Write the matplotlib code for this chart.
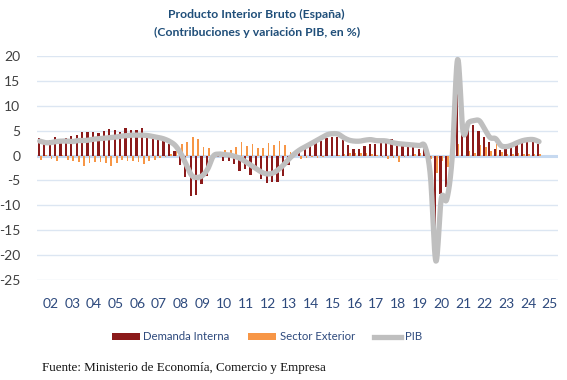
import numpy as np
import matplotlib
matplotlib.use("Agg")
import matplotlib.pyplot as plt
from matplotlib.patches import Patch
from matplotlib.lines import Line2D

# ---- data (quarterly, 2002Q1 .. 2025Q1) ----
years = ["02", "03", "04", "05", "06", "07", "08", "09", "10", "11", "12", "13",
         "14", "15", "16", "17", "18", "19", "20", "21", "22", "23", "24", "25"]

demanda_interna = [
    3.6, 2.4, 3.2, 3.8,
    2.7, 3.6, 4.0, 4.1,
    4.7, 4.8, 4.7, 4.6,
    4.9, 5.4, 5.2, 4.8,
    5.5, 5.1, 5.2, 5.6,
    4.5, 4.4, 3.6, 2.9,
    2.3, 0.9, -1.8, -4.3,
    -8.1, -7.9, -5.7, -4.1,
    -0.6, -0.3, -1.0, -1.0,
    -1.7, -3.2, -2.8, -3.9,
    -2.6, -4.8, -5.5, -5.3,
    -5.3, -4.1, -1.9, 0.5,
    1.3, 1.8, 2.2, 2.7,
    2.9, 3.6, 3.7, 3.7,
    3.2, 2.2, 1.4, 1.4,
    2.0, 2.4, 2.4, 2.7,
    3.1, 3.4, 2.9, 2.1,
    2.1, 2.1, 1.4, 1.4,
    -3.6, -18.3, -7.8, -6.4,
    -0.2, 15.5, 4.7, 5.4,
    6.1, 4.9, 3.7, 2.7,
    1.4, 1.2, 1.6, 1.7,
    2.1, 2.7, 2.9, 2.9,
    2.3]

sector_exterior = [
    -0.8, 0.1, -0.6, -1.1,
    0.2, -0.8, -1.1, -1.3,
    -2.1, -1.5, -1.3, -1.3,
    -1.4, -2.1, -1.5, -0.9,
    -1.1, -1.0, -1.3, -1.6,
    -1.0, -0.8, -0.4, -0.2,
    0.3, 1.0, 2.4, 2.7,
    3.8, 3.4, 1.7, 1.5,
    0.6, 0.5, 1.1, 1.2,
    1.8, 2.7, 1.9, 2.4,
    1.5, 1.5, 2.6, 2.2,
    2.9, 2.1, 0.7, 0.0,
    -0.6, -0.4, -0.3, -0.4,
    -0.2, -0.1, 0.0, 0.2,
    0.3, 0.6, 0.6, 0.5,
    0.6, 0.4, 0.2, -0.3,
    -0.7, -0.4, -1.2, -0.3,
    0.0, 0.4, 0.6, 0.5,
    -0.6, -3.5, -1.0, -2.3,
    -0.2, 2.4, 0.0, 1.0,
    0.6, 2.2, 1.8, 0.9,
    2.4, 0.8, 0.3, 0.3,
    0.5, 0.4, 0.3, 0.3,
    0.4]

pib = [
    2.9, 2.6, 2.6, 2.8,
    2.9, 2.9, 2.8, 3.0,
    3.0, 3.1, 3.3, 3.4,
    3.5, 3.6, 3.7, 3.9,
    4.0, 4.1, 4.1, 4.1,
    4.0, 3.8, 3.6, 3.3,
    2.8, 2.0, 0.4, -1.8,
    -4.0, -4.4, -4.0, -2.6,
    -0.1, 0.3, 0.2, 0.1,
    -0.2, -0.6, -1.3, -2.0,
    -2.7, -3.4, -3.7, -3.5,
    -2.8, -1.8, -0.6, 0.4,
    1.2, 1.8, 2.4, 3.0,
    3.6, 4.2, 4.4, 4.3,
    3.6, 3.1, 2.9, 2.9,
    3.1, 3.2, 3.0, 3.0,
    2.9, 2.6, 2.4, 2.3,
    2.2, 2.1, 2.0, 1.8,
    -4.2, -21.2, -8.6, -8.8,
    -0.4, 19.3, 4.8, 6.6,
    7.0, 7.0, 5.3, 3.6,
    3.4, 2.0, 1.8, 2.1,
    2.6, 3.0, 3.2, 3.2,
    2.8]

n_categories = 4 * len(years)

# ---- style ----
RED = "#8b1a1a"
ORANGE = "#f79646"
GREY = "#bfbfbf"
GRID = "#dce6f2"
ZERO = "#c6d9f0"
TITLE_C = "#1f4e79"
XLAB_C = "#2e4a7d"
YLAB_C = "#404040"
FONT = "Lato"


def smooth(xs, ys, per=12):
    """Excel-like smoothed line (Catmull-Rom as cubic Bezier)."""
    P = np.column_stack([xs, ys]).astype(float)
    out = [P[0]]
    n = len(P)
    t = np.linspace(0, 1, per + 1)[1:][:, None]
    for i in range(n - 1):
        p0 = P[i - 1] if i > 0 else P[i]
        p1 = P[i]
        p2 = P[i + 1]
        p3 = P[i + 2] if i + 2 < n else P[i + 1]
        c1 = p1 + (p2 - p0) / 6.0
        c2 = p2 - (p3 - p1) / 6.0
        seg = ((1 - t) ** 3) * p1 + 3 * ((1 - t) ** 2) * t * c1 + 3 * (1 - t) * t ** 2 * c2 + t ** 3 * p2
        out.extend(seg)
    out = np.array(out)
    return out[:, 0], out[:, 1]


fig = plt.figure(figsize=(5.67, 3.80), dpi=100)
ax = fig.add_axes([37 / 567, 1 - 280 / 380, 521 / 567, 224 / 380])

x = np.arange(len(pib))
ax.bar(x - 0.17, demanda_interna, width=0.42, color=RED, zorder=3, linewidth=0)
ax.bar(x + 0.19, sector_exterior, width=0.30, color=ORANGE, zorder=3, linewidth=0)

sx, sy = smooth(x, pib)
ax.plot(sx, sy, color=GREY, lw=3.8, solid_capstyle="round", solid_joinstyle="round", zorder=4)

ax.set_xlim(-0.5, n_categories - 0.5)
ax.set_ylim(-25, 20)
yt = list(range(-25, 21, 5))
ax.set_yticks(yt)
ax.set_yticklabels([str(v) for v in yt], fontsize=10, color=YLAB_C, family=FONT)
for v in yt:
    if v == 0:
        ax.axhline(0, color=ZERO, lw=2.2, zorder=1)
    else:
        ax.axhline(v, color=GRID, lw=1.0, zorder=1)

ax.set_xticks([2 + 4 * k for k in range(len(years))])
ax.set_xticklabels(years, fontsize=10, color=XLAB_C, family=FONT)
ax.tick_params(axis="both", length=0)
ax.tick_params(axis="x", pad=13)
ax.tick_params(axis="y", pad=12)
for s in ax.spines.values():
    s.set_visible(False)
ax.set_facecolor("white")

fig.text(256 / 567, 1 - 14 / 380, "Producto Interior Bruto (España)", ha="center", va="center",
         fontsize=8.8, fontweight="bold", color=TITLE_C, family=FONT)
fig.text(257 / 567, 1 - 32 / 380, "(Contribuciones y variación PIB, en %)", ha="center", va="center",
         fontsize=8.8, fontweight="bold", color=TITLE_C, family=FONT)

handles = [Patch(facecolor=RED, edgecolor="none"),
           Patch(facecolor=ORANGE, edgecolor="none"),
           Line2D([0], [0], color=GREY, lw=3.8)]
labels = ["Demanda Interna", "Sector Exterior", "PIB"]
leg = fig.legend(handles, labels, loc="center", bbox_to_anchor=(267 / 567, 1 - 337 / 380), ncol=3,
                 frameon=False, handlelength=2.45, handleheight=0.65, handletextpad=0.3,
                 columnspacing=1.65, prop={"family": FONT, "size": 8.2})
for t in leg.get_texts():
    t.set_color(XLAB_C)

fig.text(42 / 567, 1 - 368 / 380, "Fuente: Ministerio de Economía, Comercio y Empresa",
         ha="left", va="center", fontsize=9.4, family="Liberation Serif", color="#111111")

fig.savefig("out.png", dpi=100)
